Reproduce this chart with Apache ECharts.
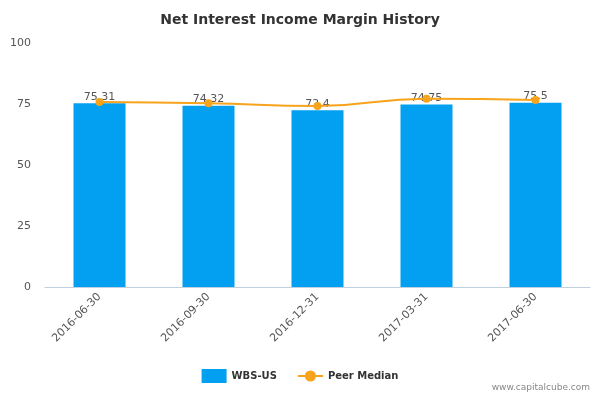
<!DOCTYPE html><html><head><meta charset="utf-8"><script src="https://cdn.jsdelivr.net/npm/echarts@6/dist/echarts.min.js"></script></head><body style="margin:0"><div id="c" style="width:600px;height:400px"></div><script>
const categories=['2016-06-30','2016-09-30','2016-12-31','2017-03-31','2017-06-30'];
const wbs=[75.31,74.32,72.4,74.75,75.5];
const peer=[75.8,75.3,74.2,77.2,76.6];
const ch=echarts.init(document.getElementById('c'));
ch.setOption({
title:{text:'Net Interest Income Margin History',left:'center',top:8,textStyle:{fontFamily:'DejaVu Sans',fontSize:14,fontWeight:'bold',color:'#333'}},
graphic:[{type:'text',right:10,bottom:8,style:{text:'www.capitalcube.com',fontFamily:'DejaVu Sans',fontSize:9,fill:'#888'}}],
legend:{bottom:12,left:'center',itemGap:20,textStyle:{fontFamily:'DejaVu Sans',fontSize:10,fontWeight:'bold',color:'#333'},data:[{name:'WBS-US',icon:'rect'},{name:'Peer Median'}]},
grid:{left:45,right:10,top:43,bottom:113},
xAxis:{type:'category',data:categories,axisLine:{lineStyle:{color:'#c0d0e0'}},axisTick:{lineStyle:{color:'#c0d0e0'}},axisLabel:{rotate:45,color:'#555',fontFamily:'DejaVu Sans',fontSize:11,margin:8}},
yAxis:{type:'value',min:0,max:100,interval:25,splitLine:{show:false},axisLabel:{color:'#555',fontFamily:'DejaVu Sans',fontSize:11,margin:14}},
series:[{name:'WBS-US',type:'bar',data:wbs,barWidth:52,itemStyle:{color:'#039ff0'},label:{show:true,position:'top',color:'#555',fontFamily:'DejaVu Sans',fontSize:11,distance:1}},
{name:'Peer Median',type:'line',data:peer,smooth:true,symbol:'circle',symbolSize:8,itemStyle:{color:'#f7a31c'},lineStyle:{color:'#f7a31c',width:2}}]
});
</script></body></html>
